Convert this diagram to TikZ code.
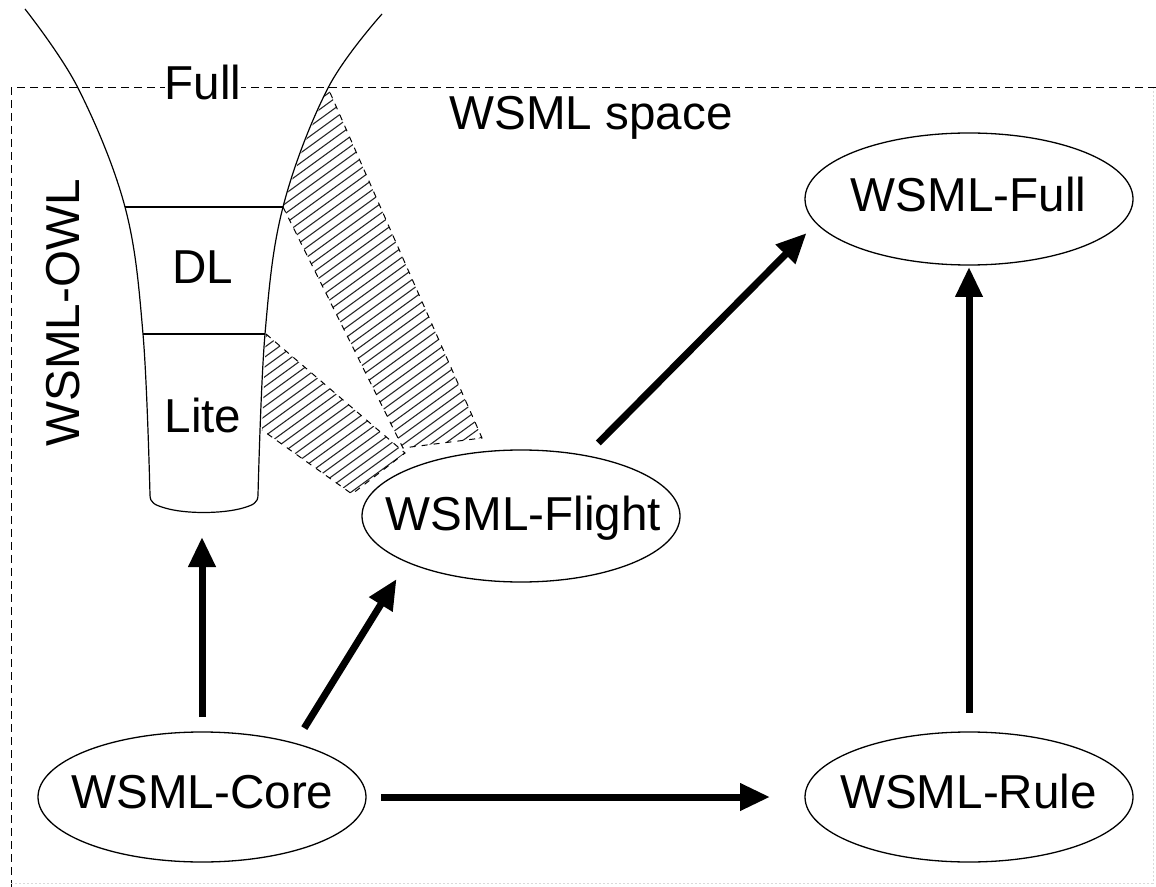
\documentclass[tikz,border=0pt]{standalone}
\usepackage{fontspec}
\setmainfont{Liberation Sans}
\usetikzlibrary{arrows.meta,shapes.geometric}
\begin{document}
\begin{tikzpicture}[x=0.5pt,y=-0.5pt,
  bubble/.style={ellipse, draw, line width=0.65pt, inner sep=0pt, outer sep=0pt},
  lbl/.style={font=\fontsize{23.8}{28}\selectfont, inner sep=0pt, anchor=base},
  thickarrow/.style={line width=3.5pt, -{Triangle[length=15pt,width=13pt]}},
  funnel/.style={line width=0.6pt},
  bandedge/.style={line width=0.5pt, dash pattern=on 3pt off 3pt},
  hatch/.style={line width=0.55pt, black!85},
  frame/.style={line width=0.5pt, dash pattern=on 4pt off 2.5pt},
  faintframe/.style={line width=0.5pt, black!15, dash pattern=on 1pt off 1pt}]
\useasboundingbox (0,0) rectangle (1156,887);

% outer dashed frame of the WSML space
\draw[frame] (1156,88) -- (11,88) -- (11,887);
\draw[faintframe] (11,883) -- (1153,883) -- (1153,88);

% hatched bands between the OWL funnel and WSML-Flight
\begin{scope}
  \clip (328,88) -- (304,145) -- (283,207) -- (403,448) -- (482,438) -- cycle
        (266,334) -- (405,453) -- (352,494) -- (262,430) -- cycle;
  \foreach \i in {-36,...,30} {
    \draw[hatch] ({370+\i*8*0.588-700*0.809},{330+\i*8*0.809+700*0.588})
              -- ({370+\i*8*0.588+700*0.809},{330+\i*8*0.809-700*0.588});
  }
\end{scope}
\draw[bandedge] (283,207) -- (403,448) -- (482,438) -- (328,88);
\draw[bandedge] (266,334) -- (405,453) -- (352,494) -- (262,430);

% the WSML-OWL funnel
\draw[funnel] plot[smooth, tension=0.6] coordinates {(25,9) (78,88) (125,207) (143,334) (150,495)};
\draw[funnel] plot[smooth, tension=0.6] coordinates {(382,14) (328,88) (283,207) (265,334) (258,495)};
\draw[funnel] (150,495) .. controls (150,503) and (155,505) .. (165,508)
  .. controls (185,514) and (222,514) .. (243,508)
  .. controls (253,505) and (258,503) .. (258,495);
\draw[funnel] (125,207) -- (283,207);
\draw[funnel] (143,334) -- (265,334);
\coordinate (funnelbot) at (202,514);

\node[lbl, fill=white] (fulltxt) at (203,100) {Full};
\node[lbl] (dltxt) at (203,284) {DL};
\node[lbl] (litetxt) at (203,432) {Lite};
\node[lbl, rotate=90] (owltxt) at (79,313) {WSML-OWL};
\node[lbl] (spacetxt) at (591,130) {WSML space};

% language variants
\node[bubble, minimum width=164pt, minimum height=65pt] (core) at (202,797) {};
\node[bubble, minimum width=164pt, minimum height=66pt] (full) at (969,199) {};
\node[bubble, minimum width=159pt, minimum height=66pt] (flight) at (521,516) {};
\node[bubble, minimum width=164pt, minimum height=65pt] (rule) at (969,797) {};

\node[lbl] (coretxt) at (202.5,808) {WSML-Core};
\node[lbl] (fulltxtb) at (968.5,212) {WSML-Full};
\node[lbl] (flighttxt) at (523.5,530) {WSML-Flight};
\node[lbl] (ruletxt) at (968.5,808) {WSML-Rule};

% layering arrows
\draw[thickarrow, shorten <=7.5pt, shorten >=11.5pt] (core.north) -- (funnelbot);
\draw[thickarrow, shorten <=9pt, shorten >=10pt] (core.30.5) -- (flight.202.6);
\draw[thickarrow, shorten <=7.5pt, shorten >=17.5pt] (core.east) -- (rule.west);
\draw[thickarrow, shorten <=9.5pt, shorten >=1pt] (rule.north) -- (full.south);
\draw[thickarrow, shorten <=9pt, shorten >=7pt] (flight.43.6) -- (full.189.8);
\end{tikzpicture}
\end{document}
